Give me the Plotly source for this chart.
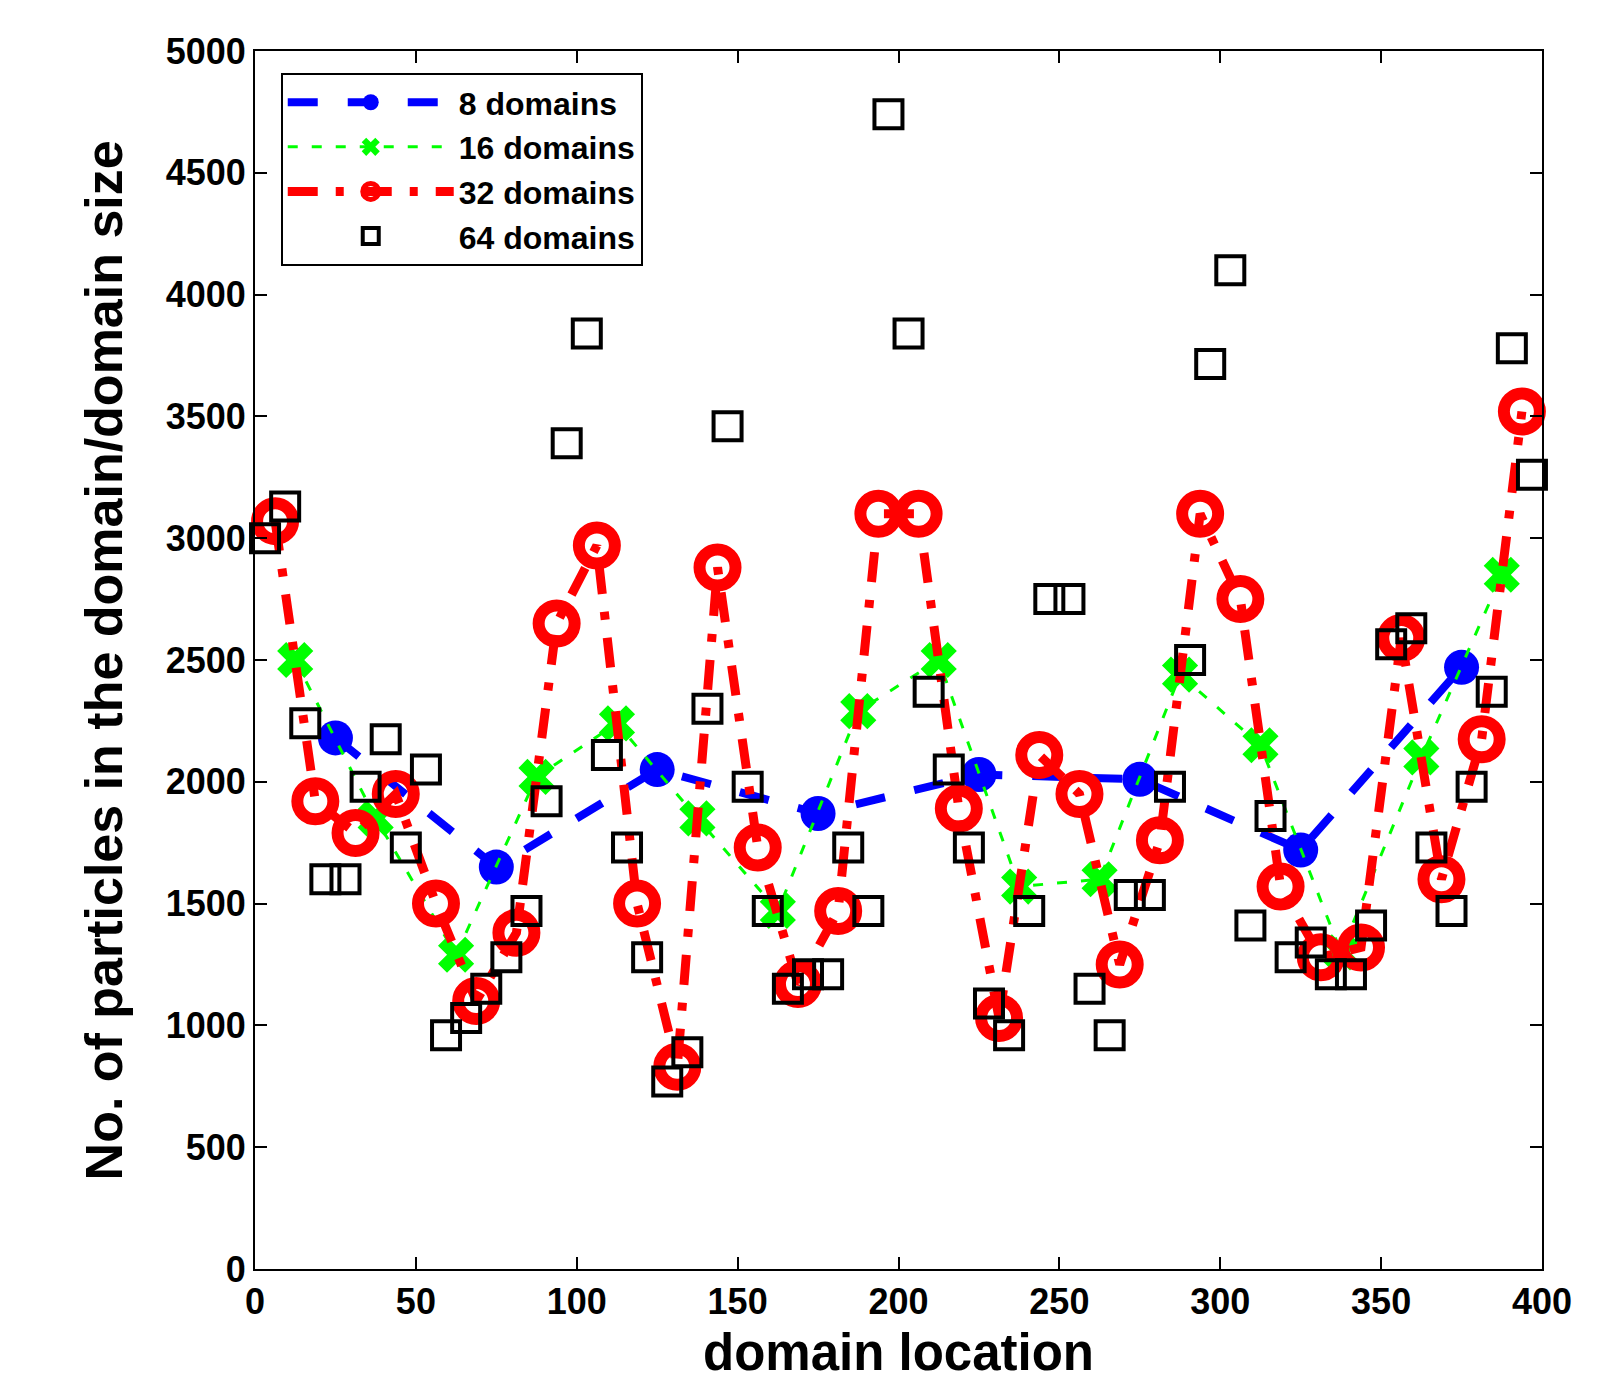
import plotly.graph_objects as go

# ---- data ----
x8 = [25, 75, 125, 175, 225, 275, 325, 375]
y8 = [2180, 1650, 2050, 1870, 2030, 2010, 1720, 2470]

x16 = [12.5, 37.5, 62.5, 87.5, 112.5, 137.5, 162.5, 187.5,
       212.5, 237.5, 262.5, 287.5, 312.5, 337.5, 362.5, 387.5]
y16 = [2500, 1850, 1290, 2020, 2240, 1850, 1470, 2290,
       2500, 1570, 1600, 2440, 2150, 1300, 2100, 2850]

x32 = [6.25, 18.75, 31.25, 43.75, 56.25, 68.75, 81.25, 93.75,
       106.25, 118.75, 131.25, 143.75, 156.25, 168.75, 181.25, 193.75,
       206.25, 218.75, 231.25, 243.75, 256.25, 268.75, 281.25, 293.75,
       306.25, 318.75, 331.25, 343.75, 356.25, 368.75, 381.25, 393.75]
y32 = [3070, 1920, 1790, 1950, 1500, 1100, 1380, 2650,
       2970, 1500, 830, 2880, 1730, 1170, 1470, 3100,
       3100, 1890, 1030, 2110, 1950, 1250, 1760, 3100,
       2750, 1570, 1280, 1320, 2590, 1600, 2175, 3520]

x64 = [3.125, 9.375, 15.625, 21.875, 28.125, 34.375, 40.625, 46.875,
       53.125, 59.375, 65.625, 71.875, 78.125, 84.375, 90.625, 96.875,
       103.125, 109.375, 115.625, 121.875, 128.125, 134.375, 140.625, 146.875,
       153.125, 159.375, 165.625, 171.875, 178.125, 184.375, 190.625, 196.875,
       203.125, 209.375, 215.625, 221.875, 228.125, 234.375, 240.625, 246.875,
       253.125, 259.375, 265.625, 271.875, 278.125, 284.375, 290.625, 296.875,
       303.125, 309.375, 315.625, 321.875, 328.125, 334.375, 340.625, 346.875,
       353.125, 359.375, 365.625, 371.875, 378.125, 384.375, 390.625, 396.875]
y64 = [3000, 3130, 2240, 1600, 1600, 1980, 2175, 1730,
       2050, 960, 1030, 1150, 1280, 1470, 1920, 3390,
       3840, 2110, 1730, 1280, 770, 890, 2300, 3460,
       1980, 1470, 1150, 1210, 1210, 1730, 1470, 4740,
       3840, 2370, 2050, 1730, 1090, 960, 1470, 2750,
       2750, 1150, 960, 1535, 1535, 1980, 2500, 3715,
       4100, 1410, 1860, 1280, 1340, 1210, 1210, 1410,
       2565, 2630, 1730, 1470, 1980, 2370, 3780, 3260]

names = ["8 domains", "16 domains", "32 domains", "64 domains"]
x_ticks = [0, 50, 100, 150, 200, 250, 300, 350, 400]
y_ticks = [0, 500, 1000, 1500, 2000, 2500, 3000, 3500, 4000, 4500, 5000]

FONT = "Liberation Sans"

fig = go.Figure()
fig.add_trace(go.Scatter(
    x=x8, y=y8, name=names[0], mode="lines+markers", cliponaxis=False,
    line=dict(color="#0000FF", width=8, dash="30px,30px"),
    marker=dict(symbol="circle", size=35, color="#0000FF")))
fig.add_trace(go.Scatter(
    x=x16, y=y16, name=names[1], mode="lines+markers", cliponaxis=False,
    line=dict(color="#00FF00", width=3, dash="10px,14px"),
    marker=dict(symbol="x", size=32, color="#00FF00", line=dict(width=0))))
fig.add_trace(go.Scatter(
    x=x32, y=y32, name=names[2], mode="lines+markers", cliponaxis=False,
    line=dict(color="#FF0000", width=9, dash="30px,18px,8px,18px"),
    marker=dict(symbol="circle-open", size=36, color="#FF0000",
                line=dict(width=12, color="#FF0000"))))
fig.add_trace(go.Scatter(
    x=x64, y=y64, name=names[3], mode="markers", cliponaxis=False,
    marker=dict(symbol="square-open", size=28, color="black",
                line=dict(width=4, color="black"))))

axis_common = dict(
    showline=True, linecolor="black", linewidth=2, mirror="ticks",
    ticks="inside", ticklen=12, tickwidth=1.5, tickcolor="black",
    showgrid=False, zeroline=False,
    tickfont=dict(family=FONT, size=36, color="black", weight="bold"),
)

fig.update_xaxes(range=[0, 400], tickvals=x_ticks, **axis_common)
fig.update_yaxes(range=[0, 5000], tickvals=y_ticks, **axis_common)

fig.update_layout(
    width=1598, height=1384,
    margin=dict(l=255, r=56, t=51, b=115),
    paper_bgcolor="white", plot_bgcolor="white",
    showlegend=True,
    legend=dict(
        x=0.02, y=0.982, xanchor="left", yanchor="top",
        bgcolor="white", bordercolor="black", borderwidth=2,
        font=dict(family=FONT, size=32, color="black", weight="bold"),
        itemwidth=166, tracegroupgap=0,
    ),
    annotations=[
        dict(text="domain location", xref="paper", yref="paper",
             x=0.5, y=-0.0940, xanchor="center", yanchor="bottom",
             showarrow=False,
             font=dict(family=FONT, size=51, color="black", weight="bold")),
        dict(text="No. of particles in the domain/domain size", xref="paper", yref="paper",
             x=-0.117, y=0.5, xanchor="center", yanchor="middle", textangle=-90,
             showarrow=False,
             font=dict(family=FONT, size=52, color="black", weight="bold")),
    ],
)

fig.write_html("out.html")
